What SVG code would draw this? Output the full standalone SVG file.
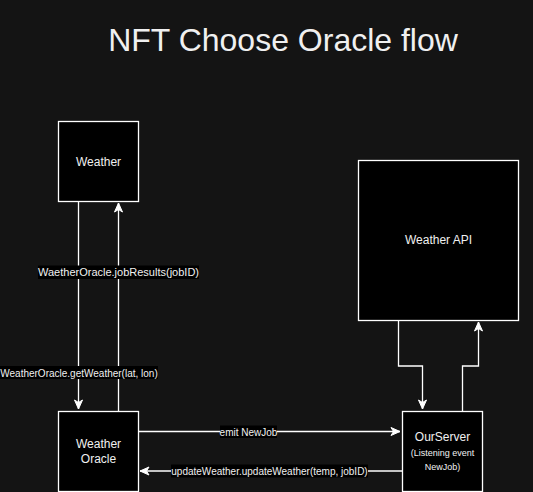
<svg xmlns="http://www.w3.org/2000/svg" width="533" height="492" viewBox="0 0 533 492">
<defs>
<marker id="arr" markerUnits="userSpaceOnUse" markerWidth="12" markerHeight="10" viewBox="0 0 12 10" refX="10" refY="5" orient="auto">
<path d="M1,1 L10,5 L1,9 L3.5,5 Z" fill="#ffffff" stroke="#ffffff" stroke-width="1"/>
</marker>
<style>
.box{fill:#000000;stroke:#ffffff;stroke-width:1.3}
.t{font-family:"Liberation Sans",Arial,sans-serif;fill:#f0f0f0;text-anchor:middle}
.edge{fill:none;stroke:#ffffff;stroke-width:1.3}
.lbg{fill:#000000}
.lt{font-family:"Liberation Sans",Arial,sans-serif;fill:#f0f0f0;font-size:10px;text-anchor:middle}
</style>
</defs>
<rect width="533" height="492" fill="#141414"/>
<text class="t" x="283" y="51" font-size="32">NFT Choose Oracle flow</text>
<g id="connectors">
<path class="edge" d="M78.5,201 V409" marker-end="url(#arr)"/>
<path class="edge" d="M118.5,411 V203" marker-end="url(#arr)"/>
<path class="edge" d="M138,431.5 H400" marker-end="url(#arr)"/>
<path class="edge" d="M402,471 H140" marker-end="url(#arr)"/>
<path class="edge" d="M398.5,320 V366 H422.5 V409" marker-end="url(#arr)"/>
<path class="edge" d="M462.5,411 V366 H478.5 V322" marker-end="url(#arr)"/>
<g id="labels">
<rect class="lbg" x="38" y="265.5" width="161" height="13.5"/>
<text class="lt" x="118.5" y="276" font-size="11px" style="font-size:11px">WaetherOracle.jobResults(jobID)</text>
<rect class="lbg" x="0" y="366" width="158" height="13"/>
<text class="lt" x="79" y="376.5">WeatherOracle.getWeather(lat, lon)</text>
<rect class="lbg" x="220" y="425.5" width="57" height="12.5"/>
<text class="lt" x="248.5" y="435.5">emit NewJob</text>
<rect class="lbg" x="171" y="464.5" width="197" height="13"/>
<text class="lt" x="269.5" y="475">updateWeather.updateWeather(temp, jobID)</text>
</g>
</g>
<g id="weather">
<rect class="box" x="58.5" y="121.5" width="80" height="80"/>
<text class="t" x="98.5" y="165.5" font-size="12">Weather</text>
</g>
<g id="weather-oracle">
<rect class="box" x="58.5" y="411.5" width="80" height="80"/>
<text class="t" x="98.5" y="447.5" font-size="12">Weather</text>
<text class="t" x="98.5" y="463" font-size="12">Oracle</text>
</g>
<g id="weather-api">
<rect class="box" x="358.5" y="160.5" width="160" height="160"/>
<text class="t" x="438.5" y="243.5" font-size="12">Weather API</text>
</g>
<g id="our-server">
<rect class="box" x="402.5" y="411.5" width="80" height="80"/>
<text class="t" x="442.5" y="441" font-size="12">OurServer</text>
<text class="t" x="442.5" y="455.5" font-size="9">(Listening event</text>
<text class="t" x="442.5" y="470" font-size="9">NewJob)</text>
</g>
</svg>
